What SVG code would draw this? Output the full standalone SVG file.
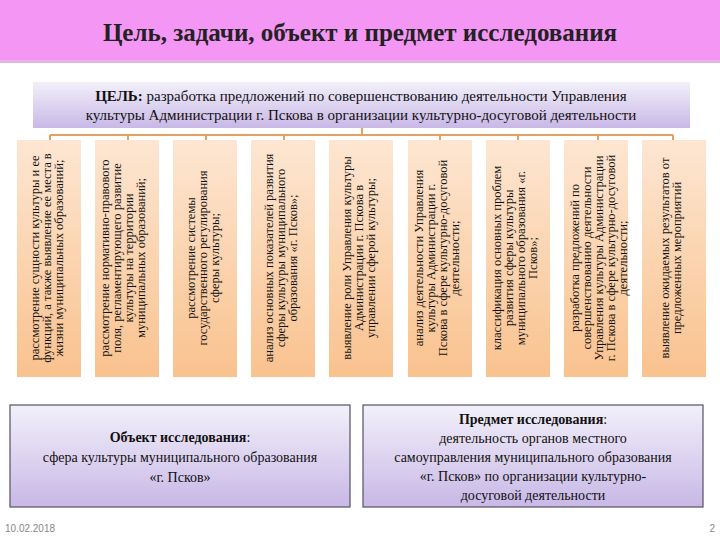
<svg xmlns="http://www.w3.org/2000/svg" width="720" height="540" viewBox="0 0 720 540">
<defs>
<linearGradient id="lav" x1="0" y1="0" x2="0" y2="1"><stop offset="0" stop-color="#f2f0fa"/><stop offset="1" stop-color="#c8b8e6"/></linearGradient>
<linearGradient id="org" x1="0" y1="0" x2="0" y2="1"><stop offset="0" stop-color="#fde6d2"/><stop offset="1" stop-color="#f9c28e"/></linearGradient>
<style>
text{font-family:"Liberation Serif","DejaVu Serif",serif;fill:#111}
.v{font-size:12.5px;text-anchor:middle}
.col{fill:url(#org)}
.bx{fill:url(#lav);stroke:#555068;stroke-width:1.2}
.c{stroke:#e4a060;stroke-width:2;fill:none}
.ft{font-family:"Liberation Sans",sans-serif;font-size:10px;fill:#888}
</style>
</defs>
<rect width="720" height="540" fill="#fff"/>
<rect x="0" y="0" width="720" height="60" fill="#f496f4"/>
<rect x="0" y="60" width="720" height="3" fill="#e6b4e6"/>
<text x="360" y="41" font-size="25" font-weight="bold" text-anchor="middle" style="fill:#222">Цель, задачи, объект и предмет исследования</text>
<g id="goal">
<rect x="33" y="82" width="657" height="46" fill="url(#lav)"/>
<text x="361" y="101" font-size="15" text-anchor="middle"><tspan font-weight="bold">ЦЕЛЬ:</tspan> разработка предложений по совершенствованию деятельности Управления</text>
<text x="361" y="120" font-size="15" text-anchor="middle">культуры Администрации г. Пскова в организации культурно-досуговой деятельности</text>
</g>
<g id="connectors">
<path class="c" d="M50 135H673M362 128V135M50 135V140M128 135V140M206 135V140M284 135V140M440 135V140M518 135V140M598 135V140M673 135V140"/>
</g>
<g id="t1"><rect class="col" x="17" y="140" width="64" height="237"/><g transform="translate(0,258) rotate(-90)"><text class="v" y="39">рассмотрение сущности культуры и ее</text><text class="v" y="51">функций, а также выявление ее места в</text><text class="v" y="63">жизни муниципальных образований;</text></g></g>
<g id="t2"><rect class="col" x="95" y="140" width="64" height="237"/><g transform="translate(0,258) rotate(-90)"><text class="v" y="109">рассмотрение нормативно-правового</text><text class="v" y="121">поля, регламентирующего развитие</text><text class="v" y="133">культуры на территории</text><text class="v" y="145">муниципальных образований;</text></g></g>
<g id="t3"><rect class="col" x="173" y="140" width="64" height="237"/><g transform="translate(0,258) rotate(-90)"><text class="v" y="195">рассмотрение системы</text><text class="v" y="207">государственного регулирования</text><text class="v" y="219">сферы культуры;</text></g></g>
<g id="t4"><rect class="col" x="251" y="140" width="64" height="237"/><g transform="translate(0,258) rotate(-90)"><text class="v" y="273">анализ основных показателей развития</text><text class="v" y="285">сферы культуры муниципального</text><text class="v" y="297">образования «г. Псков»;</text></g></g>
<g id="t5"><rect class="col" x="329" y="140" width="64" height="237"/><g transform="translate(0,258) rotate(-90)"><text class="v" y="351">выявление роли Управления культуры</text><text class="v" y="363">Администрации г. Пскова в</text><text class="v" y="375">управлении сферой культуры;</text></g></g>
<g id="t6"><rect class="col" x="408" y="140" width="64" height="237"/><g transform="translate(0,258) rotate(-90)"><text class="v" y="423">анализ деятельности Управления</text><text class="v" y="435">культуры Администрации        г.</text><text class="v" y="447">Пскова в сфере культурно-досуговой</text><text class="v" y="459">деятельности;</text></g></g>
<g id="t7"><rect class="col" x="486" y="140" width="64" height="237"/><g transform="translate(0,258) rotate(-90)"><text class="v" y="501">классификация основных проблем</text><text class="v" y="513">развития сферы культуры</text><text class="v" y="525">муниципального образования «г.</text><text class="v" y="537">Псков»;</text></g></g>
<g id="t8"><rect class="col" x="564" y="140" width="64" height="237"/><g transform="translate(0,258) rotate(-90)"><text class="v" y="579">разработка предложений по</text><text class="v" y="591">совершенствованию деятельности</text><text class="v" y="603">Управления культуры Администрации</text><text class="v" y="615">г. Пскова в сфере культурно-досуговой</text><text class="v" y="627">деятельности;</text></g></g>
<g id="t9"><rect class="col" x="642" y="140" width="64" height="237"/><g transform="translate(0,258) rotate(-90)"><text class="v" y="669">выявление ожидаемых результатов от</text><text class="v" y="681">предложенных мероприятий</text></g></g>
<g id="object"><rect class="bx" x="10" y="405" width="340" height="102"/>
<text x="180" y="442" font-size="14" text-anchor="middle"><tspan font-weight="bold">Объект исследования</tspan>:</text>
<text x="180" y="462" font-size="14" text-anchor="middle">сфера культуры муниципального образования</text>
<text x="180" y="482" font-size="14" text-anchor="middle">«г. Псков»</text></g>
<g id="subject"><rect class="bx" x="363" y="405" width="340" height="102"/>
<text x="533" y="424" font-size="14" text-anchor="middle"><tspan font-weight="bold">Предмет исследования</tspan>:</text>
<text x="533" y="443" font-size="14" text-anchor="middle">деятельность органов местного</text>
<text x="533" y="462" font-size="14" text-anchor="middle">самоуправления муниципального образования</text>
<text x="533" y="481" font-size="14" text-anchor="middle">«г. Псков» по организации культурно-</text>
<text x="533" y="500" font-size="14" text-anchor="middle">досуговой деятельности</text></g>
<text class="ft" x="5" y="532">10.02.2018</text>
<text class="ft" x="715" y="532" text-anchor="end">2</text>
</svg>
